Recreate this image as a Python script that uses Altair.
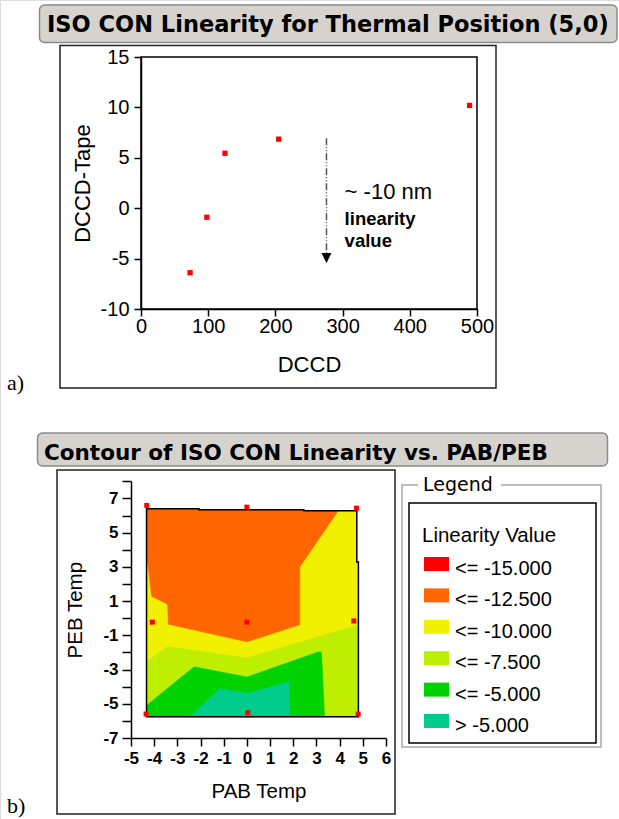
import altair as alt
import pandas as pd

W, H = 619, 819

# ---------------- panel a: values ----------------
DCCD = [73, 98, 125, 205, 489]
DCCD_TAPE = [-6.4, -0.9, 5.45, 6.85, 10.2]
A_X_TICKS = [0, 100, 200, 300, 400, 500]
A_Y_TICKS = [-10, -5, 0, 5, 10, 15]
ARROW_X = [276, 276]
ARROW_Y = [6.95, -4.5]
ARROW_HEAD_X = [276]
ARROW_HEAD_Y = [-4.94]
NOTE_MAIN = ["~ -10 nm"]
NOTE_MAIN_X = [303]
NOTE_MAIN_Y = [0.9]
NOTE_SUB = ["linearity", "value"]
NOTE_SUB_X = [303, 303]
NOTE_SUB_Y = [-1.67, -3.85]

# ---------------- panel b: values ----------------
PAB = [-4.32, 0.0, 4.73, -4.08, 0.0, 4.61, -4.35, 0.04, 4.80]
PEB = [6.59, 6.49, 6.43, -0.23, -0.23, -0.16, -5.60, -5.53, -5.60]
B_X_TICKS = [-5, -4, -3, -2, -1, 0, 1, 2, 3, 4, 5, 6]
B_Y_TICKS = [-7, -6, -5, -4, -3, -2, -1, 0, 1, 2, 3, 4, 5, 6, 7, 8]

LEGEND_LABELS = ["<= -15.000", "<= -12.500", "<= -10.000", "<= -7.500", "<= -5.000", "> -5.000"]
LEGEND_COLORS = ["#FF0000", "#FF6600", "#F0F000", "#BEEE00", "#00D200", "#00CC8C"]

# contour regions (PAB, PEB vertices)
OUTLINE_X = [-4.33, -2.07, -2.07, 2.46, 2.46, 4.74, 4.74, 4.81, 4.81, -4.33]
OUTLINE_Y = [6.40, 6.40, 6.34, 6.34, 6.28, 6.28, 3.28, 3.28, -5.76, -5.76]
YGREEN_X = [-4.33, -3.40, 0.00, 4.81, 4.81, -4.33]
YGREEN_Y = [-2.53, -1.65, -2.32, -0.40, -5.76, -5.76]
GREEN_X = [-4.33, -4.33, -2.28, 0.00, 3.10, 3.22, 3.35]
GREEN_Y = [-5.76, -5.10, -2.84, -3.44, -1.96, -2.00, -5.76]
TEAL_X = [-2.46, -1.16, 0.00, 1.82, 1.86]
TEAL_Y = [-5.76, -4.10, -4.39, -3.72, -5.76]
ORANGE_X = [-4.33, -2.07, -2.07, 2.46, 2.46, 3.94, 2.28, 2.28, 0.00, -3.39, -3.42, -4.11, -4.28, -4.33]
ORANGE_Y = [6.40, 6.40, 6.34, 6.34, 6.28, 6.28, 2.99, -0.38, -1.38, -0.35, 0.80, 1.28, 3.15, 3.20]

# ---------------- layout (pixels) ----------------
A_LEFT, A_RIGHT, A_BOTTOM, A_TOP = 141, 477, 309, 57
B_LEFT, B_RIGHT, B_BOTTOM, B_TOP = 131, 386, 738, 481.3

one = alt.Data(values=[{"k": 1}])


def rect(x1, y1, x2, y2, fill="transparent", stroke=None, sw=1.0, cr=0):
    kw = dict(fill=fill, cornerRadius=cr)
    if stroke is not None:
        kw["stroke"] = stroke
        kw["strokeWidth"] = sw
    else:
        kw["strokeWidth"] = 0
    return alt.Chart(one).mark_rect(**kw).encode(
        x=alt.value(x1), x2=alt.value(x2), y=alt.value(y1), y2=alt.value(y2))


def label(txt, x, y, size, font, weight="normal", align="left"):
    return alt.Chart(one).mark_text(
        text=txt, align=align, baseline="alphabetic", font=font,
        fontSize=size, fontWeight=weight, color="black").encode(x=alt.value(x), y=alt.value(y))


SANS = "Liberation Sans"
UI = "DejaVu Sans"

decor = [
    # panel a
    rect(39.5, 5, 617, 42.5, fill="#D6D3CE", stroke="#8A8A8A", sw=1.5, cr=5),
    label("ISO CON Linearity for Thermal Position (5,0)", 47, 31.5, 22.5, UI, "bold"),
    rect(60, 45.5, 496, 388, stroke="#222222", sw=1.5),
    rect(A_LEFT, A_TOP, A_RIGHT, A_BOTTOM, stroke="black", sw=1.5),
    label("a)", 7, 390, 22, "Liberation Serif"),
    # panel b
    rect(37.5, 433, 607.5, 466, fill="#D6D3CE", stroke="#8A8A8A", sw=1.5, cr=5),
    label("Contour of ISO CON Linearity vs. PAB/PEB", 44, 459.5, 21.5, UI, "bold"),
    rect(57, 470, 395, 814, stroke="#222222", sw=1.5),
    label("b)", 7, 813, 22, "Liberation Serif"),
    # legend frame
    rect(402, 485, 601, 747, stroke="#A8A8A8", sw=1.5),
    rect(418, 478, 501, 492, fill="white"),
    label("Legend", 423, 491, 19, UI),
    rect(409, 503, 596, 743, stroke="black", sw=1.5),
    label("Linearity Value", 422, 542, 20.5, SANS),
]

# ---------------- panel a chart ----------------
axis_common = dict(domainColor="black", tickColor="black", domainWidth=1.5, tickWidth=1.5,
                   grid=False, labelColor="black", titleColor="black", zindex=2,
                   labelFlush=False, labelOverlap=False, titleFontWeight="normal")

xa = alt.X("x:Q", scale=alt.Scale(domain=[0, 500], range=[A_LEFT, A_RIGHT], nice=False, zero=False),
           axis=alt.Axis(orient="bottom", offset=A_BOTTOM - H, values=A_X_TICKS,
                         labelExpr="toString(datum.value)",
                         tickSize=7, labelPadding=0, labelFont=SANS, labelFontSize=20,
                         title="DCCD", titleFont=SANS, titleFontSize=22,
                         titleBaseline="alphabetic", titleY=62, **axis_common))
ya = alt.Y("y:Q", scale=alt.Scale(domain=[-10, 15], range=[A_BOTTOM, A_TOP], nice=False, zero=False),
           axis=alt.Axis(orient="left", offset=-A_LEFT, values=A_Y_TICKS,
                         labelExpr="toString(datum.value)",
                         tickSize=7, labelPadding=5, labelFont=SANS, labelFontSize=20,
                         title="DCCD-Tape", titleFont=SANS, titleFontSize=22,
                         titleBaseline="middle", titleX=82 - A_LEFT, titleAngle=270, **axis_common))

pts_a = alt.Chart(pd.DataFrame({"x": DCCD, "y": DCCD_TAPE})).mark_square(
    size=28, color="#FF0000", opacity=1).encode(x=xa, y=ya)
arrow = alt.Chart(pd.DataFrame({"x": ARROW_X, "y": ARROW_Y})).mark_line(
    color="#555555", strokeWidth=1.5, strokeDash=[7, 2, 1, 2, 1, 2]).encode(x=xa, y=ya)
head = alt.Chart(pd.DataFrame({"x": ARROW_HEAD_X, "y": ARROW_HEAD_Y})).mark_point(
    shape="M-1,-1L1,-1L0,1Z", size=100, filled=True, color="black", opacity=1).encode(x=xa, y=ya)
note1 = alt.Chart(pd.DataFrame({"x": NOTE_MAIN_X, "y": NOTE_MAIN_Y, "t": NOTE_MAIN})).mark_text(
    align="left", baseline="alphabetic", font=SANS, fontSize=22, color="black").encode(x=xa, y=ya, text="t:N")
note2 = alt.Chart(pd.DataFrame({"x": NOTE_SUB_X, "y": NOTE_SUB_Y, "t": NOTE_SUB})).mark_text(
    align="left", baseline="alphabetic", font=SANS, fontSize=18.5, fontWeight="bold", color="black").encode(
    x=xa, y=ya, text="t:N")

panel_a = alt.layer(pts_a, arrow, head, note1, note2)

# ---------------- panel b chart ----------------
xb = alt.X("x:Q", scale=alt.Scale(domain=[-5, 6], range=[B_LEFT, B_RIGHT], nice=False, zero=False),
           axis=alt.Axis(orient="bottom", offset=B_BOTTOM - H, values=B_X_TICKS,
                         labelExpr="toString(datum.value)",
                         tickSize=8, labelPadding=4, labelFont=SANS, labelFontSize=17, labelFontWeight="bold",
                         title="PAB Temp", titleFont=SANS, titleFontSize=20.5,
                         titleBaseline="alphabetic", titleY=59, **axis_common))
yb = alt.Y("y:Q", scale=alt.Scale(domain=[-7, 8], range=[B_BOTTOM, B_TOP], nice=False, zero=False),
           axis=alt.Axis(orient="left", offset=-B_LEFT, values=B_Y_TICKS,
                         labelExpr="datum.value % 2 == 0 ? '' : toString(datum.value)",
                         tickSize=9, labelPadding=4, labelFont=SANS, labelFontSize=17, labelFontWeight="bold",
                         title="PEB Temp", titleFont=SANS, titleFontSize=20.5,
                         titleBaseline="middle", titleX=75 - B_LEFT, titleAngle=270, **axis_common))

polys = [
    ("outline", OUTLINE_X, OUTLINE_Y, LEGEND_COLORS[2]),
    ("ygreen", YGREEN_X, YGREEN_Y, LEGEND_COLORS[3]),
    ("green", GREEN_X, GREEN_Y, LEGEND_COLORS[4]),
    ("teal", TEAL_X, TEAL_Y, LEGEND_COLORS[5]),
    ("orange", ORANGE_X, ORANGE_Y, LEGEND_COLORS[1]),
]
rows = []
for name, xs, ys, _ in polys:
    for i, (px, py) in enumerate(zip(xs, ys)):
        rows.append({"poly": name, "i": i, "x": px, "y": py})
poly_df = pd.DataFrame(rows)
poly_base = alt.Chart(poly_df)

b_layers = []
for name, _, _, col in polys:
    b_layers.append(poly_base.transform_filter(alt.datum.poly == name).mark_line(
        interpolate="linear-closed", fill=col, stroke=col, strokeWidth=0.5).encode(
        x=xb, y=yb, order=alt.Order("i:Q")))
b_layers.append(poly_base.transform_filter(alt.datum.poly == "outline").mark_line(
    interpolate="linear-closed", fill="transparent", stroke="black", strokeWidth=1.5).encode(
    x=xb, y=yb, order=alt.Order("i:Q")))
b_layers.append(alt.Chart(pd.DataFrame({"x": PAB, "y": PEB})).mark_square(
    size=25, color="#FF0000", opacity=1).encode(x=xb, y=yb))

panel_b = alt.layer(*b_layers)

# ---------------- legend ----------------
leg_df = pd.DataFrame({"lab": LEGEND_LABELS})
ly = alt.Y("lab:N", sort=LEGEND_LABELS,
           scale=alt.Scale(type="point", domain=LEGEND_LABELS, range=[564, 721], padding=0), axis=None)
swatch = alt.Chart(leg_df).mark_point(
    shape="M-1,-0.56L1,-0.56L1,0.56L-1,0.56Z", size=625, filled=True, opacity=1, strokeWidth=0).encode(
    x=alt.value(436.5), y=ly,
    color=alt.Color("lab:N", scale=alt.Scale(domain=LEGEND_LABELS, range=LEGEND_COLORS), legend=None))
leg_text = alt.Chart(leg_df).mark_text(
    align="left", baseline="alphabetic", dy=11, font=SANS, fontSize=20, color="black").encode(
    x=alt.value(455), y=ly, text="lab:N")
legend = alt.layer(swatch, leg_text)

chart = alt.layer(*decor, panel_a, panel_b, legend).resolve_scale(
    x="independent", y="independent", color="independent"
).properties(
    width=W, height=H, padding=0, autosize=alt.AutoSizeParams(type="none")
).configure_view(strokeWidth=0).configure(background="white")

chart.save("out.html", embed_options={"renderer": "svg", "actions": False})
